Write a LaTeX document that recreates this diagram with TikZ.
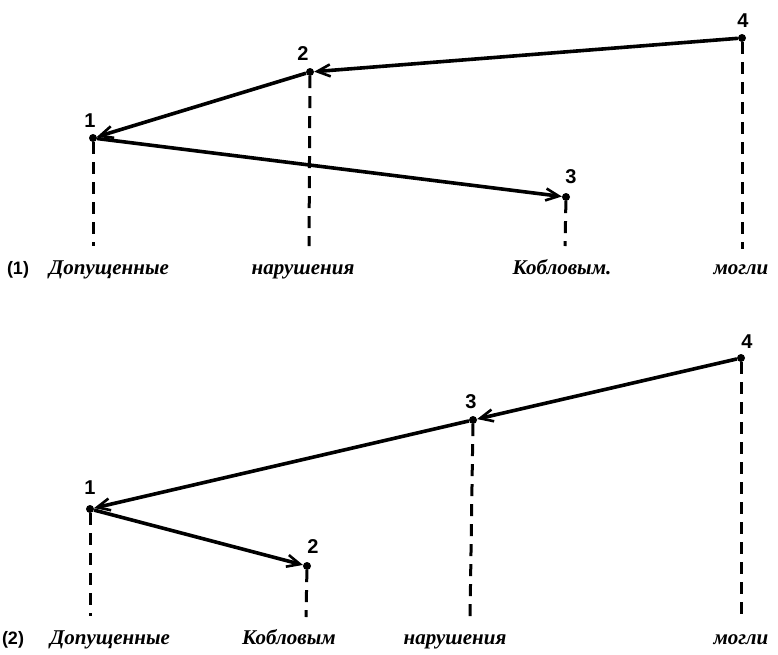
\documentclass[tikz,border=0pt]{standalone}
\usepackage{fontspec}
\setmainfont{Liberation Serif}
\newfontfamily\numfont{Liberation Sans}
\usetikzlibrary{arrows.meta}
\begin{document}
\begin{tikzpicture}[x=1pt,y=-1pt,
  dot/.style={circle,fill,inner sep=0pt,minimum size=8pt},
  link/.style={line width=3.6pt,-{Straight Barb[length=13pt,width=12pt,line width=2.6pt]}},
  guide/.style={line width=3pt,dash pattern=on 12pt off 8pt},
  num/.style={font=\numfont\bfseries\fontsize{20}{20}\selectfont,inner sep=0pt},
  word/.style={font=\bfseries\itshape\fontsize{21}{21}\selectfont,anchor=base,inner sep=0pt},
  tag/.style={font=\numfont\bfseries\fontsize{18}{18}\selectfont,anchor=base,inner sep=0pt}]
\useasboundingbox (0,0) rectangle (778,654);

% ---------- diagram (1)
\node[dot] (a1) at (93,138) {};
\node[dot] (a2) at (310,72) {};
\node[dot] (a3) at (566,197) {};
\node[dot] (a4) at (742,38) {};
\node[num] (n1) at (90,121) {1};
\node[num] (n2) at (303,54) {2};
\node[num] (n3) at (571,177) {3};
\node[num] (n4) at (743,21) {4};
\coordinate (e1) at (93,246);
\coordinate (e2) at (309,246);
\coordinate (e3) at (565,246);
\coordinate (e4) at (742,249);
\draw[guide] (a1) -- (e1);
\draw[guide] (a2) -- (e2);
\draw[guide] (a3) -- (e3);
\draw[guide] (a4) -- (e4);
\draw[link] (a4) -- (a2);
\draw[link] (a2) -- (a1);
\draw[link] (a1) -- (a3);
\node[tag] (t1) at (18,274) {(1)};
\node[word] (w1a) at (109,274) {Допущенные};
\node[word] (w1b) at (303,274) {нарушения};
\node[word] (w1c) at (562,274) {Кобловым.};
\node[word] (w1d) at (741,274) {могли};

% ---------- diagram (2)
\node[dot] (b1) at (90,509) {};
\node[dot] (b2) at (307,566) {};
\node[dot] (b3) at (473,420) {};
\node[dot] (b4) at (741,358) {};
\node[num] (m1) at (90,488) {1};
\node[num] (m2) at (313,547) {2};
\node[num] (m3) at (471,402) {3};
\node[num] (m4) at (747,342) {4};
\coordinate (f1) at (90,616);
\coordinate (f2) at (306,617);
\coordinate (f3) at (470,618);
\coordinate (f4) at (741,620);
\draw[guide] (b1) -- (f1);
\draw[guide] (b2) -- (f2);
\draw[guide] (b3) -- (f3);
\draw[guide] (b4) -- (f4);
\draw[link] (b4) -- (b3);
\draw[link] (b3) -- (b1);
\draw[link] (b1) -- (b2);
\node[tag] (t2) at (13,644) {(2)};
\node[word] (w2a) at (110,644) {Допущенные};
\node[word] (w2b) at (289,644) {Кобловым};
\node[word] (w2c) at (455,644) {нарушения};
\node[word] (w2d) at (741,644) {могли};
\end{tikzpicture}
\end{document}
